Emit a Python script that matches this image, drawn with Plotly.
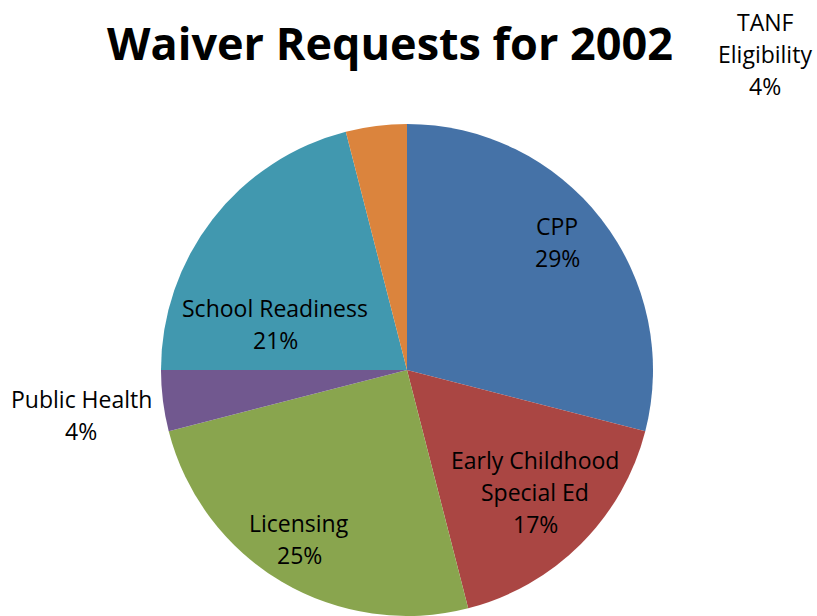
import plotly.graph_objects as go

# Waiver request shares for 2002 (percent), clockwise from 12 o'clock
categories = ["CPP", "Early Childhood<br>Special Ed", "Licensing",
              "Public Health", "School Readiness", "TANF<br>Eligibility"]
values = [29, 17, 25, 4, 21, 4]
colors = ["#4572A7", "#AA4643", "#89A54E", "#71588F", "#4198AF", "#DB843D"]

W, H = 817, 616
FONT = "Open Sans"

# pie geometry in pixels
cx, cy, r = 407, 370, 246

# label block centres (pixels from top-left) and line spacing
label_centres = [(557, 242), (535, 492), (299, 539), (81, 415), (275, 324), (765, 54)]
line_gap = 32

fig = go.Figure(go.Pie(
    labels=[c.replace("<br>", " ") for c in categories],
    values=values,
    sort=False,
    direction="clockwise",
    rotation=0,
    marker=dict(colors=colors, line=dict(width=0)),
    textinfo="none",
    hoverinfo="label+percent",
    showlegend=False,
    domain=dict(x=[(cx - r) / W, (cx + r) / W],
                y=[(H - cy - r) / H, (H - cy + r) / H]),
))

annotations = []
for cat, val, (lx, ly) in zip(categories, values, label_centres):
    lines = cat.split("<br>") + [f"{val}%"]
    top = ly - line_gap * (len(lines) - 1) / 2
    for i, line in enumerate(lines):
        y = top + i * line_gap
        annotations.append(dict(
            text=line, x=lx / W, y=1 - y / H, xref="paper", yref="paper",
            xanchor="center", yanchor="middle", showarrow=False,
            font=dict(family=FONT, size=23, color="#000000"),
        ))

annotations.append(dict(
    text="<b>Waiver Requests for 2002</b>", x=390 / W, y=1 - 43 / H,
    xref="paper", yref="paper", xanchor="center", yanchor="middle",
    showarrow=False, font=dict(family=FONT, size=45, color="#000000"),
))

fig.update_layout(
    width=W, height=H,
    margin=dict(l=0, r=0, t=0, b=0),
    paper_bgcolor="white", plot_bgcolor="white",
    annotations=annotations,
)

fig.write_html("out.html")
